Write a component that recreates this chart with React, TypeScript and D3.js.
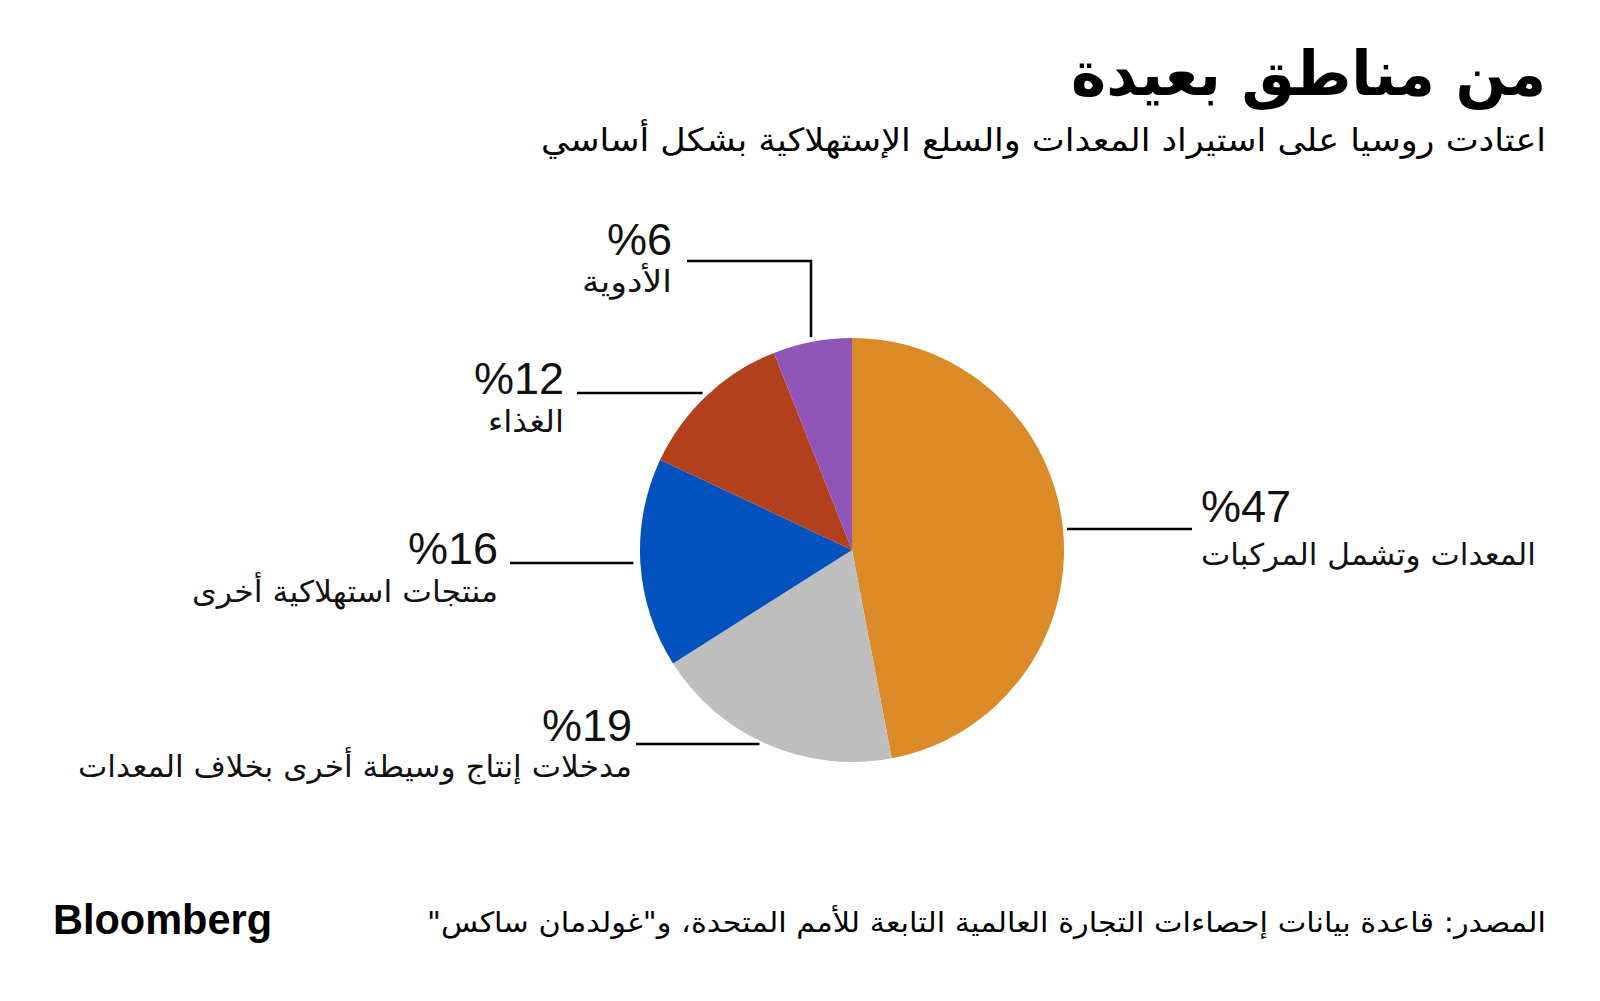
import React from "react";
import * as d3 from "d3";

const categories = [
  "المعدات وتشمل المركبات",
  "مدخلات إنتاج وسيطة أخرى بخلاف المعدات",
  "منتجات استهلاكية أخرى",
  "الغذاء",
  "الأدوية",
];
const values = [47, 19, 16, 12, 6];
const pctLabels = ["%47", "%19", "%16", "%12", "%6"];
const colors = ["#DA8A26", "#BEBEBE", "#0152BD", "#B2401D", "#8F55B9"];

const title = "من مناطق بعيدة";
const subtitle = "اعتادت روسيا على استيراد المعدات والسلع الإستهلاكية بشكل أساسي";
const source = "المصدر: قاعدة بيانات إحصاءات التجارة العالمية التابعة للأمم المتحدة، و\"غولدمان ساكس\"";

const W = 1600;
const H = 1001;
const cx = 852;
const cy = 550;
const R = 212;

// label layout: side, text anchor x, percent baseline, label baseline, leader y, leader outer x, label width
const layout = [
  { side: "right", tx: 1201, py: 522, ly: 565, lineY: 529, lineX: 1192, w: 335 },
  { side: "left", tx: 632, py: 741, ly: 777, lineY: 744, lineX: 636, w: 554 },
  { side: "left", tx: 498, py: 564, ly: 602, lineY: 563, lineX: 510, w: 306 },
  { side: "left", tx: 564, py: 394, ly: 432, lineY: 393, lineX: 577, w: 76 },
  { side: "elbow", tx: 672, py: 255, ly: 292, lineY: 261, lineX: 687, w: 90 },
];

const arabicFont = "'DejaVu Sans', 'Noto Sans', sans-serif";
const latinFont = "'Liberation Sans', Arial, sans-serif";

export default function App() {
  const pie = d3
    .pie<number>()
    .sort(null)
    .value((d) => d)
    .startAngle(0)
    .endAngle(2 * Math.PI);
  const arcs = pie(values);
  const arc = d3.arc<d3.PieArcDatum<number>>().innerRadius(0).outerRadius(R);

  const leaders = arcs.map((a, i) => {
    const L = layout[i];
    if (L.side === "elbow") {
      const vx = Math.round(cx - 41);
      const topY = cy - Math.sqrt(R * R - (vx - cx) * (vx - cx)) - 5;
      return `M${L.lineX},${L.lineY}H${vx}V${topY}`;
    }
    const dy = L.lineY - cy;
    const dx = Math.sqrt(Math.max(0, R * R - dy * dy));
    const edgeX = L.side === "right" ? cx + dx + 4 : cx - dx - 7;
    return `M${L.lineX},${L.lineY}H${edgeX}`;
  });

  return (
    <svg
      width={W}
      height={H}
      style={{ position: "absolute", left: 0, top: 0, background: "#fff" }}
    >
      <rect width={W} height={H} fill="#fff" />
      <text
        x={1546}
        y={95}
        direction="rtl"
        textAnchor="start"
        fontFamily={arabicFont}
        fontWeight="bold"
        fontSize={62}
        textLength={475}
        lengthAdjust="spacingAndGlyphs"
        fill="#000"
      >
        {title}
      </text>
      <text
        x={1546}
        y={151}
        direction="rtl"
        textAnchor="start"
        fontFamily={arabicFont}
        fontSize={32}
        textLength={1005}
        lengthAdjust="spacingAndGlyphs"
        fill="#000"
      >
        {subtitle}
      </text>

      <g transform={`translate(${cx},${cy})`}>
        {arcs.map((a, i) => (
          <path key={i} d={arc(a) || ""} fill={colors[i]} />
        ))}
      </g>

      {leaders.map((d, i) => (
        <path key={i} d={d} fill="none" stroke="#000" strokeWidth={2.5} />
      ))}

      {arcs.map((a, i) => {
        const L = layout[i];
        const isRight = L.side === "right";
        return (
          <g key={i}>
            <text
              x={L.tx}
              y={L.py}
              textAnchor={isRight ? "start" : "end"}
              fontFamily={latinFont}
              fontSize={45}
              fill="#111"
            >
              {pctLabels[i]}
            </text>
            <text
              x={L.tx}
              y={L.ly}
              direction="rtl"
              textAnchor={isRight ? "end" : "start"}
              fontFamily={arabicFont}
              fontSize={30}
              textLength={L.w}
              lengthAdjust="spacingAndGlyphs"
              fill="#111"
            >
              {categories[i]}
            </text>
          </g>
        );
      })}

      <text
        x={53}
        y={934}
        fontFamily={latinFont}
        fontWeight="bold"
        fontSize={42}
        textLength={219}
        lengthAdjust="spacingAndGlyphs"
        fill="#000"
      >
        Bloomberg
      </text>
      <text
        x={1546}
        y={932}
        direction="rtl"
        textAnchor="start"
        fontFamily={arabicFont}
        fontSize={28}
        textLength={1119}
        lengthAdjust="spacingAndGlyphs"
        fill="#000"
      >
        {source}
      </text>
    </svg>
  );
}
